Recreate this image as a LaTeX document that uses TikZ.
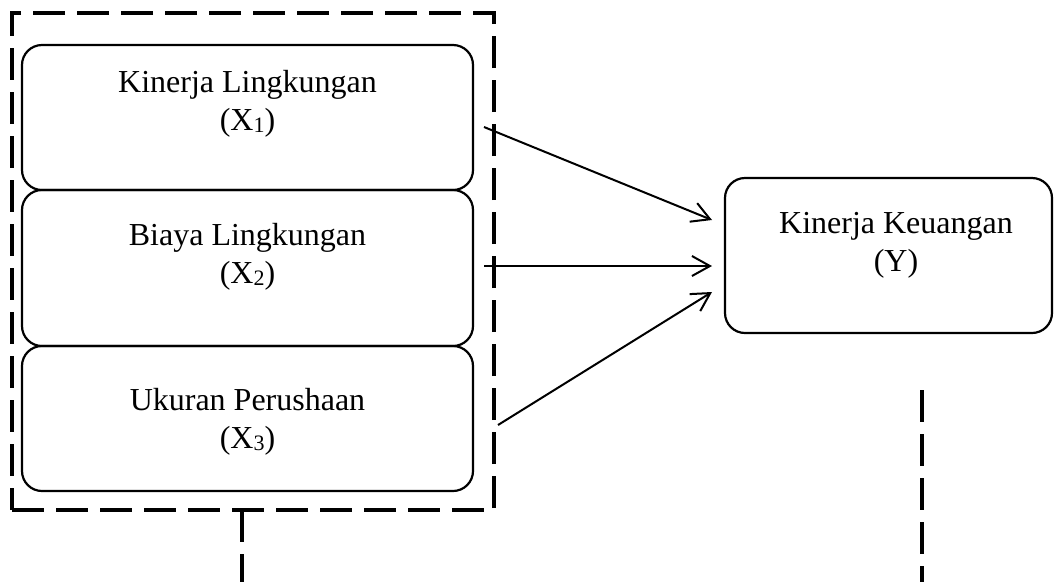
\documentclass[tikz,border=0pt]{standalone}
\usepackage{fontspec}
\setmainfont{Liberation Serif}
\usetikzlibrary{arrows.meta}
\newcommand{\lowsub}[1]{\raisebox{-2pt}{\fontsize{22}{22}\selectfont #1}}
\begin{document}
\begin{tikzpicture}[x=1pt,y=-1pt,
  varbox/.style={draw, line width=2.2pt, rounded corners=20pt, rectangle, inner sep=0pt, outer sep=0pt},
  lbl/.style={align=center, inner sep=0pt, font=\fontsize{32}{38}\selectfont},
  dashline/.style={line width=3.3pt, dash pattern=on 32pt off 12pt},
  conn/.style={line width=2pt, -{Straight Barb[length=18pt,width=20pt,line width=2pt]}}]
\useasboundingbox (0,0) rectangle (1054,582);
% group box
\node[draw, dashline, rectangle, inner sep=0pt, outer sep=0pt, minimum width=482pt, minimum height=497pt] (grp) at (253,261.5) {};
% variable boxes
\node[varbox, minimum width=451pt, minimum height=145pt] (b1) at (247.5,117.5) {};
\node[varbox, minimum width=451pt, minimum height=156pt] (b2) at (247.5,268) {};
\node[varbox, minimum width=451pt, minimum height=145pt] (b3) at (247.5,418.5) {};
\node[varbox, minimum width=327pt, minimum height=155pt] (by) at (888.5,255.5) {};
% labels
\node[lbl] (t1) at (247.5,104) {Kinerja Lingkungan\\(X\lowsub{1})};
\node[lbl] (t2) at (247.5,257) {Biaya Lingkungan\\(X\lowsub{2})};
\node[lbl] (t3) at (247.5,421.5) {Ukuran Perushaan\\(X\lowsub{3})};
\node[lbl] (ty) at (896,245) {Kinerja Keuangan\\(Y)};
% connector ends
\coordinate (s1) at (484,127);
\coordinate (e1) at (712,220);
\coordinate (s2) at (484,266);
\coordinate (e2) at (712,266);
\coordinate (s3) at (498,425);
\coordinate (e3) at (712,292);
\draw[conn] (s1) -- (e1);
\draw[conn] (s2) -- (e2);
\draw[conn] (s3) -- (e3);
% dashed lines leaving the picture
\coordinate (d1) at (242,582);
\draw[dashline] (grp.south -| d1) -- (d1);
\coordinate (d2a) at (922,390);
\coordinate (d2b) at (922,582);
\draw[dashline] (d2a) -- (d2b);
\end{tikzpicture}
\end{document}
